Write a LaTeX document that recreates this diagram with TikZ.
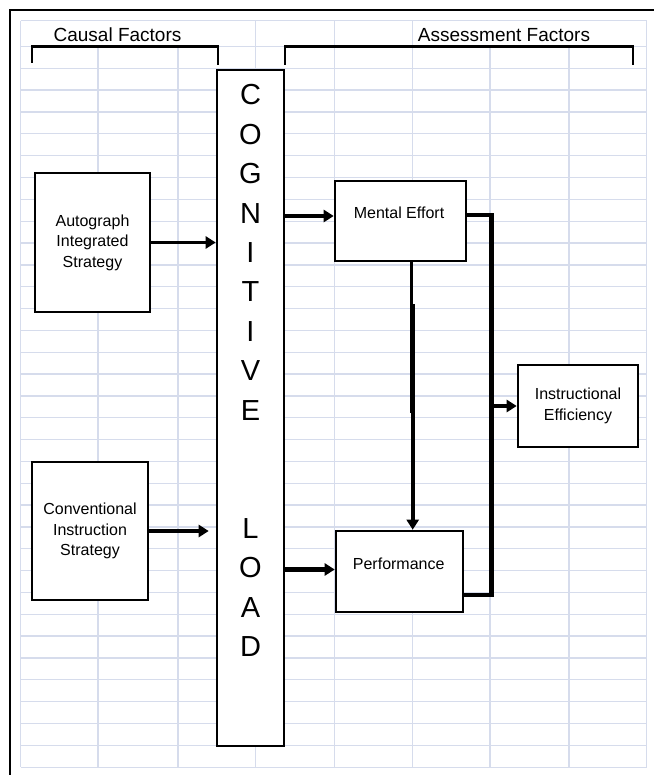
\documentclass[tikz,border=0pt]{standalone}
\usepackage{fontspec}
\setmainfont{Liberation Sans}
\usetikzlibrary{arrows.meta}
\definecolor{gridc}{RGB}{214,220,236}
\begin{document}
\begin{tikzpicture}[x=1pt,y=-1pt,
  gridline/.style={draw=gridc,line width=1.3pt},
  boxnode/.style={draw,line width=2.6pt,fill=white,inner sep=0pt,align=center,
    font=\fontsize{16}{20.5}\selectfont},
  plain/.style={inner sep=0pt,font=\fontsize{16}{20.5}\selectfont},
  header/.style={inner sep=0pt,font=\fontsize{19}{22}\selectfont},
  clletter/.style={inner sep=0pt,font=\fontsize{29}{32}\selectfont},
  arr/.style={line width=3.4pt,-{Triangle[length=10pt,width=12pt]}},
  thickarr/.style={line width=4.2pt,-{Triangle[length=10pt,width=12pt]}},
  busline/.style={line width=4.2pt,line join=miter},
  bracket/.style={line width=2.6pt}]
\useasboundingbox (0,0) rectangle (654,775);
\fill[white] (0,0) rectangle (654,775);
% spreadsheet grid
\foreach \x in {20.5,98,178,255.5,334.5,412.5,490,569,646.5}
  \draw[gridline] (\x,46.7) -- (\x,767.3);
\foreach \x in {20.5,255.5,334.5,412.5,646.5}
  \draw[gridline] (\x,20.7) -- (\x,46.7);
\draw[gridline] (20.5,20.7) -- (646.5,20.7);
\draw[gridline] (20.5,46.7) -- (646.5,46.7);
\foreach \k in {0,...,32}
  \draw[gridline] (20.5,68.3+21.84*\k) -- (646.5,68.3+21.84*\k);
% outer frame
\draw[line width=2.6pt] (10,775) -- (10,10) -- (654,10);
% headers and brackets
\node[header] (hcausal) at (117.5,35) {Causal Factors};
\node[header] (hassess) at (504,35) {Assessment Factors};
\draw[bracket] (32,63) -- (32,46.7) -- (218,46.7) -- (218,65);
\draw[bracket] (285,65) -- (285,46.7) -- (633,46.7) -- (633,65);
% boxes
\node[boxnode,minimum width=115,minimum height=139] (ais) at (92.5,242.5)
  {Autograph\\Integrated\\Strategy};
\node[boxnode,minimum width=116,minimum height=138] (cis) at (90,531)
  {Conventional\\Instruction\\Strategy};
\node[boxnode,minimum width=67,minimum height=676] (cl) at (250.5,408) {};
\node[boxnode,minimum width=131,minimum height=80] (me) at (400.5,221) {};
\node[plain] (metext) at (399,213) {Mental Effort};
\node[boxnode,minimum width=127,minimum height=81] (pf) at (399.5,571.5) {};
\node[plain] (pftext) at (398.7,563.5) {Performance};
\node[boxnode,minimum width=120,minimum height=82] (ie) at (578,406)
  {Instructional\\Efficiency};
% letters of COGNITIVE LOAD
\foreach \l [count=\i from 0] in {C,O,G,N,I,T,I,V,E}
  \node[clletter] (clA\i) at (250.5,95+39.4*\i) {\l};
\foreach \l [count=\i from 11] in {L,O,A,D}
  \node[clletter] (clB\i) at (250.5,95+39.4*\i) {\l};
% connectors
\draw[arr] (ais.east) -- (ais.east -| cl.west);
\draw[arr,shorten >=7pt] (cis.east) -- (cis.east -| cl.west);
\coordinate (meIn) at ([yshift=5pt]me.west);
\draw[arr] (cl.east |- meIn) -- (meIn);
\coordinate (pfIn) at ([yshift=2pt]pf.west);
\draw[thickarr] (cl.east |- pfIn) -- (pfIn);
\coordinate (meOut) at ([xshift=11pt]me.south);
\coordinate (meOutB) at ([xshift=12.2pt,yshift=-42pt]me.south);
\coordinate (meOutEnd) at ([yshift=-151pt]meOut);
\draw[line width=3.6pt] (meOut) -- (meOutEnd);
\draw[line width=3.6pt,-{Triangle[length=10pt,width=12pt]}] (meOutB) -- (meOutB |- pf.north);
\coordinate (meR) at ([yshift=6pt]me.east);
\coordinate (pfR) at ([yshift=-23.5pt]pf.east);
\coordinate (busx) at (491.5,400);
\draw[busline] (meR) -- (meR -| busx) -- (pfR -| busx) -- (pfR);
\draw[thickarr] (busx |- ie.west) -- (ie.west);
\end{tikzpicture}
\end{document}
